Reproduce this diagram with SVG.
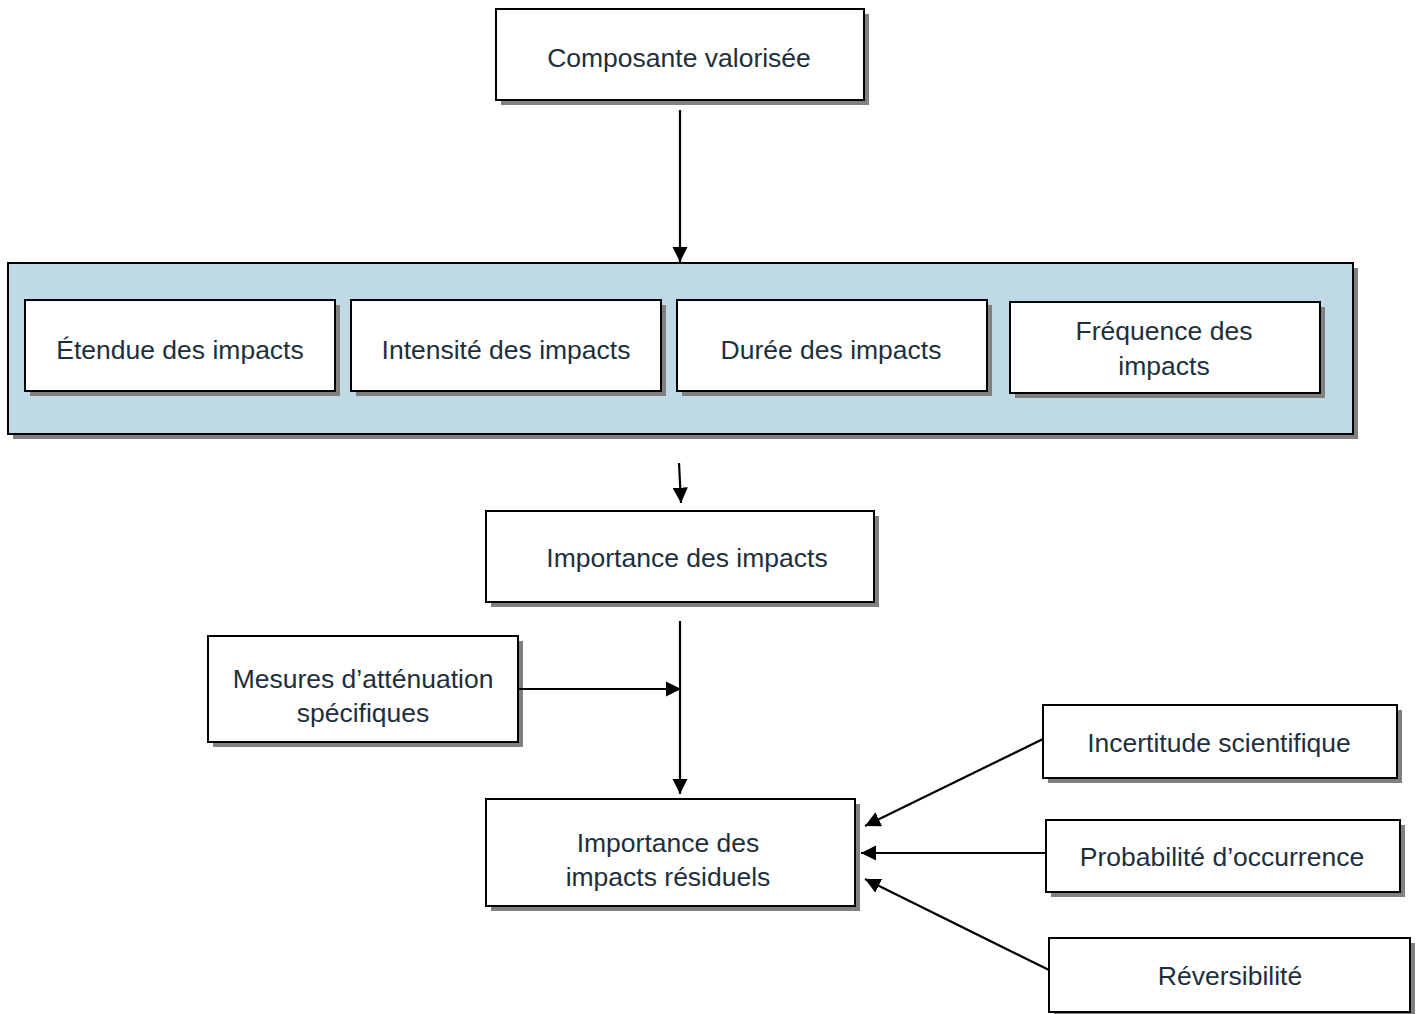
<svg xmlns="http://www.w3.org/2000/svg" width="1419" height="1014" viewBox="0 0 1419 1014">
<style>
.sh{fill:#808080;stroke:none}
.bx{fill:#ffffff;stroke:#000000;stroke-width:2}
.cont{fill:#BFDAE4;stroke:#000000;stroke-width:2}
.t{font-family:"Liberation Sans",Arial,sans-serif;font-size:26.5px;fill:#1E2F3C;text-anchor:middle}
.c{stroke:#000;stroke-width:2.2;fill:none}
</style>
<defs>
<marker id="ah" viewBox="0 0 10 10" refX="10" refY="5" markerWidth="7" markerHeight="7" markerUnits="strokeWidth" orient="auto">
<path d="M0,0 L10,5 L0,10 z" fill="#000"/>
</marker>
</defs>
<rect width="1419" height="1014" fill="#ffffff"/>
<g id="container">
<rect class="sh" x="13" y="268" width="1345" height="171"/>
<rect class="cont" x="8" y="263" width="1345" height="171"/>
</g>
<g id="composante">
<rect class="sh" x="501" y="14" width="368" height="91"/>
<rect class="bx" x="496" y="9" width="368" height="91"/>
<text class="t" x="679" y="67">Composante valorisée</text>
</g>
<g id="etendue">
<rect class="sh" x="30" y="305" width="310" height="91"/>
<rect class="bx" x="25" y="300" width="310" height="91"/>
<text class="t" x="180" y="359">Étendue des impacts</text>
</g>
<g id="intensite">
<rect class="sh" x="356" y="305" width="310" height="91"/>
<rect class="bx" x="351" y="300" width="310" height="91"/>
<text class="t" x="506" y="359">Intensité des impacts</text>
</g>
<g id="duree">
<rect class="sh" x="682" y="305" width="310" height="91"/>
<rect class="bx" x="677" y="300" width="310" height="91"/>
<text class="t" x="831" y="359">Durée des impacts</text>
</g>
<g id="frequence">
<rect class="sh" x="1015" y="307" width="310" height="91"/>
<rect class="bx" x="1010" y="302" width="310" height="91"/>
<text class="t" x="1164" y="340">Fréquence des</text>
<text class="t" x="1164" y="375">impacts</text>
</g>
<g id="importance">
<rect class="sh" x="491" y="516" width="388" height="91"/>
<rect class="bx" x="486" y="511" width="388" height="91"/>
<text class="t" x="687" y="567">Importance des impacts</text>
</g>
<g id="mesures">
<rect class="sh" x="213" y="641" width="310" height="106"/>
<rect class="bx" x="208" y="636" width="310" height="106"/>
<text class="t" x="363" y="688">Mesures d’atténuation</text>
<text class="t" x="363" y="722">spécifiques</text>
</g>
<g id="residuels">
<rect class="sh" x="491" y="804" width="369" height="107"/>
<rect class="bx" x="486" y="799" width="369" height="107"/>
<text class="t" x="668" y="852">Importance des</text>
<text class="t" x="668" y="886">impacts résiduels</text>
</g>
<g id="incertitude">
<rect class="sh" x="1048" y="710" width="354" height="73"/>
<rect class="bx" x="1043" y="705" width="354" height="73"/>
<text class="t" x="1219" y="752">Incertitude scientifique</text>
</g>
<g id="probabilite">
<rect class="sh" x="1051" y="825" width="354" height="72"/>
<rect class="bx" x="1046" y="820" width="354" height="72"/>
<text class="t" x="1222" y="866">Probabilité d’occurrence</text>
</g>
<g id="reversibilite">
<rect class="sh" x="1054" y="943" width="361" height="74"/>
<rect class="bx" x="1049" y="938" width="361" height="74"/>
<text class="t" x="1230" y="985">Réversibilité</text>
</g>
<g id="connectors">
<line class="c" x1="680" y1="110" x2="680" y2="262" marker-end="url(#ah)"/>
<line class="c" x1="679" y1="463" x2="681" y2="503" marker-end="url(#ah)"/>
<line class="c" x1="680" y1="621" x2="680" y2="794" marker-end="url(#ah)"/>
<line class="c" x1="518" y1="689" x2="681" y2="689" marker-end="url(#ah)"/>
<line class="c" x1="1043" y1="739" x2="865" y2="826" marker-end="url(#ah)"/>
<line class="c" x1="1046" y1="853" x2="861" y2="853" marker-end="url(#ah)"/>
<line class="c" x1="1049" y1="970" x2="865" y2="879" marker-end="url(#ah)"/>
</g>
</svg>
